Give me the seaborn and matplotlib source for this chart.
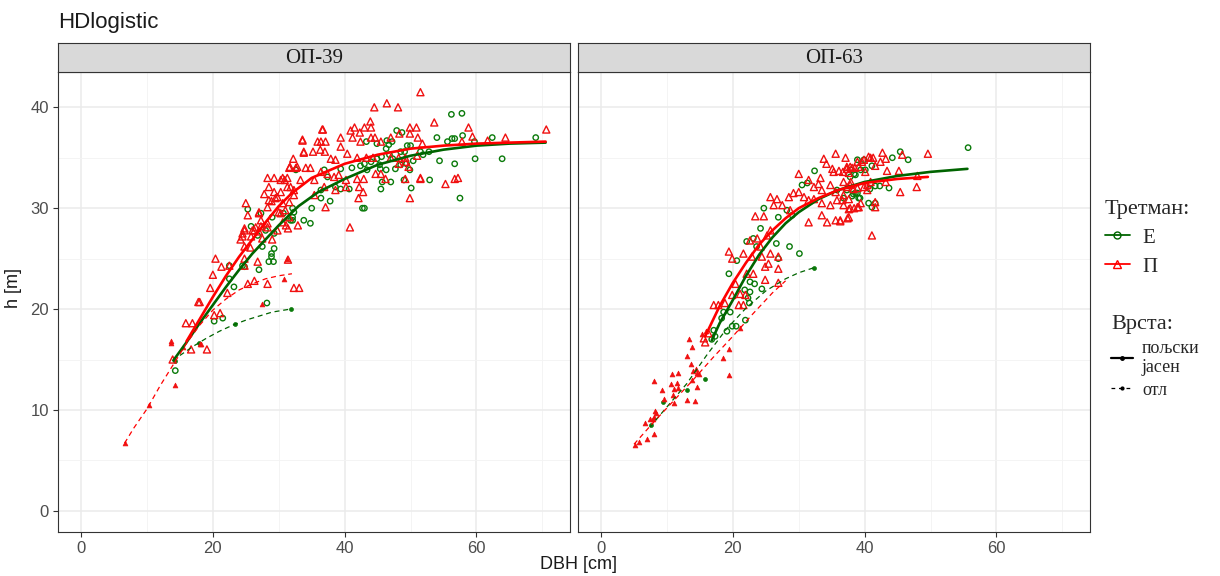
import numpy as np
import pandas as pd
import matplotlib
matplotlib.use("Agg")
import matplotlib.pyplot as plt
from matplotlib.lines import Line2D
import seaborn as sns

# panels and groups
panels = ["ОП-39", "ОП-63"]
tretmani = ["Е", "П"]
vrste = ["пољски\nјасен", "отл"]

# ОП-39 points (dbh [cm], h [m])
op39_P_pj = [
    (51.5, 41.5), (44.5, 40.0), (46.4, 40.4), (48.1, 40.0), (53.6, 38.5), (58.8, 38.0), (70.6, 37.8),
    (64.4, 37.0), (61.7, 36.7), (59.4, 37.1), (57.8, 36.6), (36.7, 37.8), (33.6, 36.8), (35.9, 36.6),
    (36.4, 36.6), (37.1, 36.6), (39.4, 37.0), (40.9, 37.7), (41.5, 38.0), (42.3, 37.5), (43.0, 38.0),
    (43.9, 38.6), (44.0, 38.0), (41.2, 37.0), (44.0, 37.0), (44.6, 37.0), (42.4, 36.6), (45.5, 36.6),
    (47.0, 37.0), (49.9, 38.0), (50.9, 38.0), (49.9, 37.4), (51.1, 37.0), (51.8, 36.4), (48.3, 37.4),
    (32.2, 34.9), (33.8, 35.5), (36.3, 35.8), (37.0, 35.6), (37.9, 34.9), (38.6, 34.8), (39.4, 36.1),
    (40.4, 35.4), (41.9, 35.0), (43.3, 35.0), (44.3, 35.0), (47.0, 35.0), (48.2, 35.0), (49.2, 35.0),
    (51.0, 35.2), (30.9, 32.8), (31.6, 34.0), (32.6, 34.0), (34.1, 34.0), (34.8, 34.0), (36.4, 33.6),
    (37.4, 33.4), (38.4, 33.1), (39.1, 33.3), (40.2, 32.8), (41.9, 32.9), (42.9, 32.9), (44.7, 33.4),
    (45.5, 33.4), (46.2, 32.9), (48.2, 34.4), (49.2, 34.6), (49.7, 34.1), (51.5, 32.9), (56.7, 32.9),
    (55.3, 32.4), (49.2, 32.9), (30.3, 32.8), (31.3, 32.1), (32.3, 31.8), (33.3, 32.8), (35.4, 32.8),
    (36.9, 32.1), (38.6, 31.8), (40.2, 32.1), (42.2, 32.1), (42.8, 31.6), (42.1, 31.0), (35.4, 31.3),
    (37.1, 30.1), (40.8, 28.1), (49.9, 31.0), (31.4, 24.9), (57.2, 33.0), (51.5, 33.0),
    (31.7, 34.1), (32.8, 34.1), (28.3, 33.0), (29.3, 33.0), (30.6, 33.0), (31.3, 33.0), (28.5, 32.1),
    (29.3, 31.6), (30.3, 31.6), (31.8, 32.1), (27.8, 31.4), (28.9, 30.7), (29.5, 31.0), (30.6, 30.5),
    (31.6, 30.6), (32.3, 31.3), (25.0, 30.5), (25.3, 29.3), (27.0, 29.6), (30.0, 29.6), (31.0, 29.8),
    (30.6, 28.6), (31.1, 28.3), (31.4, 28.0), (32.9, 28.3), (27.3, 28.8), (28.3, 28.1), (26.5, 28.1),
    (24.8, 28.0), (26.0, 27.8), (24.5, 27.5), (25.8, 27.2), (24.2, 26.9), (27.5, 27.0), (29.0, 26.9),
    (27.0, 27.7), (24.8, 26.2), (25.7, 26.1), (26.8, 24.7), (20.4, 25.0), (21.3, 24.2), (22.5, 24.3),
    (24.8, 25.0), (24.8, 24.3), (20.0, 23.4), (19.6, 22.1), (22.2, 21.6), (25.3, 22.5), (26.3, 22.8),
    (28.3, 22.5), (32.3, 22.1), (33.1, 22.1), (15.9, 18.6), (16.9, 18.6), (20.2, 19.4), (21.1, 19.6),
    (19.1, 16.0), (16.7, 16.0), (13.9, 15.0), (17.8, 20.7), (18.0, 20.7),
    (29.8, 31.1), (28.5, 30.8), (28.3, 30.1), (27.0, 29.5), (28.3, 28.5), (30.3, 29.5), (31.6, 29.1),
    (27.3, 28.2), (26.3, 27.8), (24.8, 27.8), (24.5, 27.2), (29.8, 27.8), (33.6, 36.7), (36.6, 37.8),
    (33.8, 35.6), (35.2, 35.6),
]
op39_E_pj = [
    (56.2, 39.3), (57.8, 39.4), (47.9, 37.7), (48.7, 37.5), (43.3, 36.6), (44.9, 36.4), (46.4, 36.7),
    (47.2, 36.6), (49.5, 36.2), (50.0, 36.2), (54.0, 37.0), (55.6, 36.6), (56.3, 36.9), (56.7, 36.9),
    (57.9, 37.2), (59.7, 36.6), (62.4, 37.0), (69.0, 37.0), (46.3, 35.9), (46.7, 36.3), (48.5, 35.6),
    (49.1, 35.6), (51.5, 35.6), (52.8, 35.6), (51.9, 35.3), (59.8, 34.9), (63.9, 34.9), (54.4, 34.7),
    (56.7, 34.4), (44.9, 34.9), (45.6, 35.1), (46.8, 35.3), (47.3, 34.9), (43.0, 34.4), (44.0, 34.6),
    (45.3, 34.3), (41.1, 34.0), (42.4, 34.2), (43.4, 33.8), (45.4, 33.9), (46.3, 33.8), (47.7, 33.9),
    (48.5, 34.3), (49.4, 34.4), (50.4, 34.7), (49.9, 33.8), (45.7, 32.6), (47.0, 32.6), (52.9, 32.8),
    (45.5, 31.9), (50.1, 32.0), (49.0, 32.8), (57.5, 31.0), (42.7, 30.0), (43.0, 30.0), (39.4, 31.9),
    (40.7, 31.9), (38.6, 32.1), (36.4, 31.8), (37.8, 30.7), (36.4, 31.0), (35.0, 30.0), (32.1, 30.0),
    (33.8, 28.8), (34.8, 28.5), (32.6, 33.8), (36.9, 33.8), (37.4, 33.1), (39.4, 33.9), (30.7, 29.5),
    (32.1, 28.8), (25.3, 29.9), (25.8, 28.2), (27.3, 29.5), (28.0, 27.8), (27.5, 26.2), (26.8, 27.3),
    (29.0, 29.1), (29.3, 27.5), (29.3, 26.0), (28.9, 25.5), (28.5, 24.7), (29.2, 24.7), (28.9, 25.2),
    (32.3, 29.6), (31.8, 28.8), (32.1, 29.1), (24.5, 24.3), (24.8, 24.2), (27.0, 23.9), (22.5, 23.0),
    (23.2, 22.2), (22.5, 24.3), (20.2, 18.8), (21.5, 19.1), (28.2, 20.6), (14.3, 13.9),
]
op39_P_otl = [
    (6.6, 6.7), (10.3, 10.5), (14.3, 12.5), (13.6, 16.8), (13.6, 16.6), (15.4, 16.2), (18.0, 16.5),
    (27.4, 20.5), (31.3, 25.0), (30.8, 23.0), (18.2, 16.5),
]
op39_E_otl = [(14.2, 14.9), (17.9, 16.6), (23.3, 18.5), (31.8, 20.0)]

# ОП-63 points
op63_P_pj = [
    (35.6, 35.4), (33.8, 34.9), (34.2, 34.4), (35.1, 33.9), (35.3, 33.6), (36.1, 33.7), (36.7, 33.6),
    (37.3, 33.9), (37.8, 34.1), (38.5, 34.0), (39.1, 34.1), (39.9, 34.8), (40.6, 35.1), (30.0, 33.4),
    (31.5, 32.8), (33.3, 33.0), (32.3, 32.1), (33.0, 32.4), (33.5, 31.8), (34.8, 32.3), (35.6, 31.6),
    (36.8, 32.6), (37.8, 32.3), (38.9, 32.0), (39.9, 32.1), (25.7, 31.1), (26.7, 30.9), (28.5, 31.1),
    (29.2, 31.5), (30.0, 31.6), (30.8, 31.1), (31.5, 30.8), (32.3, 30.9), (33.5, 30.5), (34.8, 30.3),
    (35.8, 30.8), (36.8, 30.3), (37.8, 30.0), (38.9, 30.1), (23.4, 29.2), (24.7, 29.2), (26.2, 30.3),
    (27.5, 30.3), (28.7, 29.8), (31.5, 28.6), (33.5, 29.3), (34.3, 28.6), (35.6, 28.8), (36.3, 28.8),
    (37.6, 29.1), (22.6, 26.8), (23.7, 27.0), (25.2, 27.3), (25.7, 27.8), (24.2, 26.2), (19.4, 25.7),
    (19.9, 25.0), (21.6, 25.5), (22.9, 25.2), (24.4, 25.2), (25.7, 25.5), (26.9, 25.2), (22.1, 23.5),
    (23.1, 23.5), (24.9, 24.2), (25.4, 24.5), (26.9, 24.0), (24.9, 22.9), (20.4, 22.5), (21.1, 21.5),
    (21.9, 21.4), (20.9, 20.4), (21.6, 20.4), (17.1, 20.4), (17.8, 20.4), (18.8, 20.6), (19.9, 21.4),
    (26.9, 22.6), (16.3, 17.6), (15.8, 16.7), (15.6, 17.1),
    (37.1, 35.0), (42.7, 35.5), (45.7, 35.3), (49.6, 35.4), (40.9, 35.0), (41.3, 35.0), (38.9, 34.6),
    (39.6, 34.6), (41.6, 34.2), (42.4, 34.6), (43.2, 34.9), (37.3, 34.1), (38.1, 34.0), (40.1, 33.6),
    (43.4, 33.7), (45.2, 33.7), (37.6, 33.5), (48.0, 33.2), (37.9, 32.6), (40.9, 32.6), (43.2, 32.6),
    (37.3, 32.1), (38.3, 31.9), (40.4, 32.3), (40.4, 31.8), (47.9, 32.1), (45.4, 31.6), (36.8, 31.3),
    (37.6, 30.9), (36.6, 30.8), (39.4, 30.5), (41.6, 30.6), (41.6, 30.1), (37.6, 29.9), (38.4, 30.0),
    (39.1, 30.1), (37.4, 29.0), (41.1, 27.3), (36.3, 28.7),
]
op63_E_pj = [
    (32.4, 33.7), (24.7, 30.0), (26.9, 29.1), (28.2, 29.8), (29.0, 29.3), (24.2, 28.0), (23.1, 27.0),
    (22.1, 26.7), (23.6, 26.2), (26.6, 26.5), (28.6, 26.2), (30.1, 25.5), (26.9, 25.0), (20.6, 24.8),
    (19.4, 23.5), (22.6, 22.7), (23.3, 22.5), (24.4, 22.0), (21.8, 21.9), (22.6, 21.7), (22.3, 21.1),
    (22.5, 20.6), (18.6, 19.7), (19.6, 19.7), (18.3, 19.1), (21.9, 18.9), (20.5, 18.3), (19.9, 18.3),
    (19.1, 17.8), (17.1, 17.9), (16.8, 17.0), (17.3, 17.3), (38.9, 34.8), (39.9, 34.8), (39.4, 33.8),
    (38.4, 33.4), (37.8, 33.1), (38.6, 31.5), (39.3, 31.0), (37.3, 31.8), (35.8, 31.8), (31.3, 32.5),
    (30.5, 32.3), (55.7, 36.0), (45.4, 35.6), (46.6, 34.8), (44.2, 35.0), (37.9, 33.8), (40.1, 33.8),
    (41.1, 34.2), (38.6, 33.3), (43.7, 32.0), (41.6, 32.2), (42.3, 32.2), (40.8, 31.9), (38.3, 31.4),
    (38.9, 31.5), (39.1, 31.0), (36.8, 31.0), (38.1, 31.2), (40.6, 30.5), (41.1, 30.1), (41.6, 30.5),
]
op63_P_otl = [
    (13.3, 17.0), (13.8, 16.2), (13.0, 15.3), (18.5, 15.1), (19.4, 16.0), (21.1, 18.1), (10.7, 13.6),
    (11.6, 13.7), (8.1, 12.9), (9.2, 12.0), (10.6, 12.6), (11.5, 12.7), (11.1, 12.1), (10.9, 11.5),
    (11.6, 12.2), (11.0, 10.7), (13.6, 14.6), (14.4, 14.1), (14.0, 13.9), (14.6, 13.7), (14.9, 13.6),
    (13.8, 13.0), (13.0, 11.0), (14.3, 10.9), (14.6, 12.3), (16.0, 17.8), (15.3, 17.5), (19.4, 13.5),
    (8.2, 9.9), (8.4, 9.7), (8.1, 9.3), (7.9, 9.1), (7.4, 9.1), (6.6, 8.7), (6.9, 7.1), (8.1, 7.6),
    (5.8, 6.8), (5.2, 6.5), (9.6, 11.1),
]
op63_E_otl = [(15.7, 13.1), (13.1, 12.0), (7.6, 8.5), (9.4, 10.8), (32.3, 24.1)]

# fitted HD curves
op39_P_pj_fit_d = [16, 18, 20, 22, 24, 26, 28, 30, 32, 35, 40, 45, 50, 55, 60, 65, 70.5]
op39_P_pj_fit_h = [16.8, 19.0, 21.2, 23.3, 25.2, 26.9, 28.6, 30.2, 31.5, 33.0, 34.4, 35.3, 35.9, 36.2, 36.4, 36.5, 36.6]
op39_E_pj_fit_d = [14, 16, 18, 20, 22, 24, 26, 28, 30, 33, 36, 40, 45, 50, 55, 60, 65, 70.5]
op39_E_pj_fit_h = [14.9, 16.7, 18.6, 20.4, 22.2, 23.9, 25.5, 26.9, 28.3, 30.2, 31.6, 32.9, 34.3, 35.2, 35.8, 36.2, 36.4, 36.5]
op39_P_otl_fit_d = [6.6, 8, 10, 12, 14, 16, 18, 20, 22, 24, 26, 28, 30, 32]
op39_P_otl_fit_h = [6.7, 8.2, 10.1, 12.4, 14.5, 16.6, 18.4, 19.9, 21.0, 21.9, 22.5, 23.0, 23.3, 23.5]
op39_E_otl_fit_d = [15, 17, 19, 21, 23, 25, 27, 29, 31.8]
op39_E_otl_fit_h = [15.4, 16.3, 17.1, 17.8, 18.4, 18.9, 19.3, 19.7, 20.0]

op63_P_pj_fit_d = [15.8, 18, 20, 22, 24, 26, 28, 30, 33, 36, 40, 45, 49.6]
op63_P_pj_fit_h = [17.3, 20.3, 22.6, 24.6, 26.4, 27.8, 29.0, 30.0, 31.0, 31.8, 32.5, 32.9, 33.1]
op63_E_pj_fit_d = [16.8, 18, 20, 22, 24, 26, 28, 30, 33, 36, 40, 45, 50, 55.6]
op63_E_pj_fit_h = [16.9, 18.6, 20.9, 23.3, 25.4, 27.1, 28.5, 29.6, 30.9, 31.8, 32.6, 33.2, 33.6, 33.9]
op63_P_otl_fit_d = [5, 8, 11, 14, 17, 20, 23, 26, 28]
op63_P_otl_fit_h = [6.6, 8.8, 10.9, 13.0, 15.2, 17.3, 19.5, 21.6, 22.8]
op63_E_otl_fit_d = [7.4, 10, 13, 16, 19, 22, 25, 28, 30, 32.3]
op63_E_otl_fit_h = [8.3, 10.3, 12.6, 15.4, 18.0, 20.1, 21.8, 23.0, 23.6, 24.1]

points = {
    ("ОП-39", "Е", "пољски\nјасен"): op39_E_pj,
    ("ОП-39", "П", "пољски\nјасен"): op39_P_pj,
    ("ОП-39", "Е", "отл"): op39_E_otl,
    ("ОП-39", "П", "отл"): op39_P_otl,
    ("ОП-63", "Е", "пољски\nјасен"): op63_E_pj,
    ("ОП-63", "П", "пољски\nјасен"): op63_P_pj,
    ("ОП-63", "Е", "отл"): op63_E_otl,
    ("ОП-63", "П", "отл"): op63_P_otl,
}
fits = {
    ("ОП-39", "Е", "пољски\nјасен"): (op39_E_pj_fit_d, op39_E_pj_fit_h),
    ("ОП-39", "П", "пољски\nјасен"): (op39_P_pj_fit_d, op39_P_pj_fit_h),
    ("ОП-39", "Е", "отл"): (op39_E_otl_fit_d, op39_E_otl_fit_h),
    ("ОП-39", "П", "отл"): (op39_P_otl_fit_d, op39_P_otl_fit_h),
    ("ОП-63", "Е", "пољски\nјасен"): (op63_E_pj_fit_d, op63_E_pj_fit_h),
    ("ОП-63", "П", "пољски\nјасен"): (op63_P_pj_fit_d, op63_P_pj_fit_h),
    ("ОП-63", "Е", "отл"): (op63_E_otl_fit_d, op63_E_otl_fit_h),
    ("ОП-63", "П", "отл"): (op63_P_otl_fit_d, op63_P_otl_fit_h),
}

rows = []
for (panel, tret, vrsta), pts in points.items():
    for d, h in pts:
        rows.append((panel, tret, vrsta, d, h))
df = pd.DataFrame(rows, columns=["panel", "tretman", "vrsta", "dbh", "h"])

frows = []
for (panel, tret, vrsta), (dd, hh) in fits.items():
    for d, h in zip(dd, hh):
        frows.append((panel, tret, vrsta, d, h))
fit_df = pd.DataFrame(frows, columns=["panel", "tretman", "vrsta", "dbh", "h"])

colors = {"Е": "#0a7a0a", "П": "#f01010"}
line_colors = {"Е": "#006400", "П": "#ff0000"}
markers = {"Е": "o", "П": "^"}

sns.set_style("white")
plt.rcParams["font.family"] = ["Liberation Sans", "DejaVu Sans"]
serif = ["Liberation Serif", "DejaVu Serif"]

fig = plt.figure(figsize=(12.2, 5.76), dpi=100)
W, H = 1220, 576
px = [(58, 570), (578, 1090)]
top, bottom = 72, 532

axes = []
for i, panel in enumerate(panels):
    l, r = px[i]
    ax = fig.add_axes([l / W, (H - bottom) / H, (r - l) / W, (bottom - top) / H])
    axes.append(ax)
    sub = df[df.panel == panel]
    fsub = fit_df[fit_df.panel == panel]

    for tret in tretmani:
        # open markers, пољски јасен
        g = sub[(sub.tretman == tret) & (sub.vrsta == vrste[0])]
        sns.scatterplot(data=g, x="dbh", y="h", ax=ax, marker=markers[tret],
                        s=26 if tret == "П" else 15, color=colors[tret],
                        facecolor="none", edgecolor=colors[tret], linewidth=1.0,
                        legend=False, zorder=3)
        # small filled markers, отл
        g = sub[(sub.tretman == tret) & (sub.vrsta == vrste[1])]
        sns.scatterplot(data=g, x="dbh", y="h", ax=ax, marker=markers[tret],
                        s=12 if tret == "П" else 8, color=colors[tret],
                        edgecolor=colors[tret], linewidth=0.5, legend=False, zorder=3)

    for tret in tretmani:
        f = fsub[(fsub.tretman == tret) & (fsub.vrsta == vrste[0])]
        sns.lineplot(data=f, x="dbh", y="h", ax=ax, color=line_colors[tret], linewidth=1.9,
                     sort=True, estimator=None, legend=False, zorder=4)
        f = fsub[(fsub.tretman == tret) & (fsub.vrsta == vrste[1])]
        sns.lineplot(data=f, x="dbh", y="h", ax=ax, color=line_colors[tret], linewidth=0.9,
                     linestyle=(0, (4, 3)), sort=True, estimator=None, legend=False, zorder=4)

    ax.set_xlim(-3.5, 74.2)
    ax.set_ylim(-2.1, 43.5)
    ax.set_xticks([0, 20, 40, 60])
    ax.set_xticks([10, 30, 50, 70], minor=True)
    ax.set_yticks([0, 10, 20, 30, 40])
    ax.set_yticks([5, 15, 25, 35], minor=True)
    ax.grid(which="major", color="#ebebeb", linewidth=1.1)
    ax.grid(which="minor", color="#f3f3f3", linewidth=0.6)
    ax.set_axisbelow(True)
    ax.tick_params(which="major", length=3.5, width=0.8, color="#333333",
                   labelcolor="#4d4d4d", labelsize=12, pad=3, left=True, bottom=True)
    ax.tick_params(which="minor", length=0)
    for sp in ax.spines.values():
        sp.set_color("#333333")
        sp.set_linewidth(0.8)
    ax.set_xlabel("")
    ax.set_ylabel("")
    if i == 1:
        ax.tick_params(axis="y", labelleft=False, left=False)

    # facet strip
    sax = fig.add_axes([l / W, (H - top) / H, (r - l) / W, 29 / H])
    sax.set_facecolor("#d9d9d9")
    sax.set_xticks([])
    sax.set_yticks([])
    for sp in sax.spines.values():
        sp.set_color("#333333")
        sp.set_linewidth(0.8)
    sax.text(0.5, 0.45, panel, ha="center", va="center", fontsize=15,
             family=serif, color="#1a1a1a", transform=sax.transAxes)

fig.text(58 / W, 1 - 28 / H, "HDlogistic", ha="left", va="baseline", fontsize=16, color="#1a1a1a")
fig.text(578 / W, 1 - 573 / H, "DBH [cm]", ha="center", va="bottom", fontsize=13, color="#1a1a1a")
fig.text(13 / W, 0.5, "h [m]", ha="center", va="center", rotation=90, fontsize=13, color="#1a1a1a")

# legends
h1 = [Line2D([], [], color=line_colors[t], marker=markers[t], mfc="none", mec=line_colors[t],
             ms=5 if t == "Е" else 6, lw=1.3) for t in tretmani]
leg1 = fig.legend(h1, tretmani, title="Третман:", loc="upper left",
                  bbox_to_anchor=(1086 / W, 1 - 181 / H), frameon=False,
                  prop={"family": serif, "size": 15},
                  title_fontproperties={"family": serif, "size": 16},
                  handlelength=1.2, handletextpad=0.6, labelspacing=0.45, alignment="left")
h2 = [Line2D([], [], color="black", marker="o", ms=2.5, lw=1.6),
      Line2D([], [], color="black", marker="o", ms=2, lw=0.9, linestyle=(0, (3, 3)))]
leg2 = fig.legend(h2, vrste, title="Врста:", loc="upper left",
                  bbox_to_anchor=(1095 / W, 1 - 299 / H), frameon=False,
                  prop={"family": serif, "size": 13},
                  title_fontproperties={"family": serif, "size": 16},
                  handlelength=1.2, handletextpad=0.5, labelspacing=0.3, alignment="left")

fig.savefig("out.png", dpi=100)
